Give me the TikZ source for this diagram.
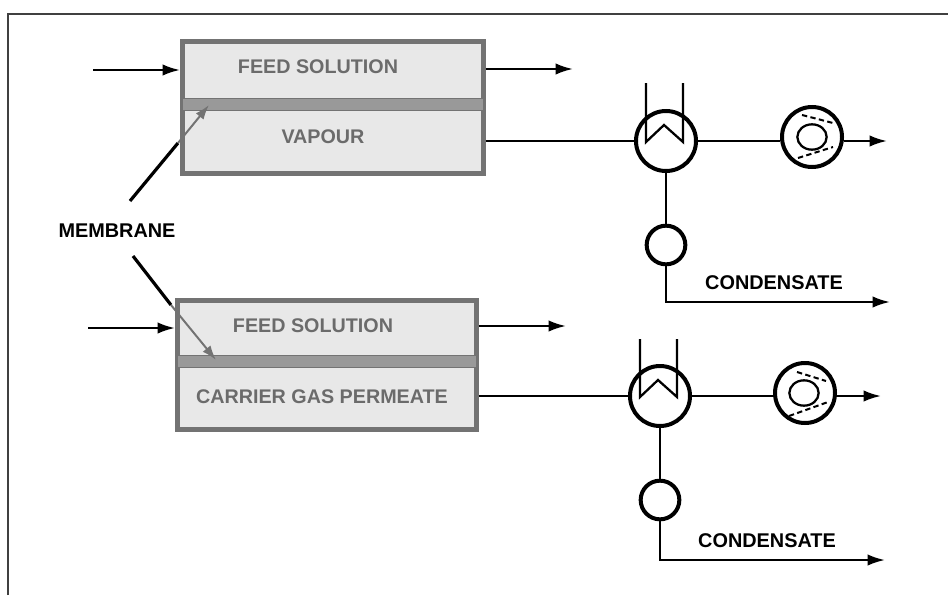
\documentclass[tikz,border=0pt]{standalone}
\usepackage{fontspec}
\setmainfont{Liberation Sans}
\usetikzlibrary{arrows.meta,shapes.geometric}
\definecolor{boxfill}{gray}{0.91}
\definecolor{boxedge}{gray}{0.45}
\definecolor{memb}{gray}{0.6}
\definecolor{boxtext}{gray}{0.42}
\tikzset{
  vessel/.style={draw=boxedge,line width=3.4pt,fill=boxfill,inner sep=0pt,anchor=north west},
  membstrip/.style={draw=boxedge,line width=0.7pt,fill=memb,inner sep=0pt},
  boxlabel/.style={text=boxtext,font=\fontsize{14.8pt}{16pt}\selectfont\bfseries,inner sep=0pt},
  blacklabel/.style={text=black,font=\fontsize{14.9pt}{16pt}\selectfont\bfseries,inner sep=0pt},
  flow/.style={line width=1.7pt,-{Latex[length=13pt,width=8.5pt]}},
  pipe/.style={line width=1.7pt},
  ring/.style={circle,draw=black,line width=3pt,fill=white,inner sep=0pt},
  leader/.style={line width=2.4pt},
  greyarrow/.style={line width=1.5pt,draw=boxedge,color=boxedge,-{Latex[length=11pt,width=7.5pt]}},
  dashrim/.style={line width=1.5pt,dash pattern=on 4pt off 2.5pt},
  thinring/.style={ellipse,draw=black,line width=1.7pt,inner sep=0pt,minimum width=22pt,minimum height=19pt}
}
\begin{document}
\begin{tikzpicture}[x=0.75pt,y=-0.75pt]
\useasboundingbox (0,0) rectangle (948,603);
\fill[white] (0,0) rectangle (948,603);
% frame
\coordinate (f1) at (8,595);
\coordinate (f2) at (8,14);
\coordinate (f3) at (948,14);
\draw[line width=0.9pt,draw=black!75] (f1) -- (f2) -- (f3);

% upper module
\node[vessel,minimum width=225.75pt,minimum height=99pt] (boxA) at (180,39) {};
\node[membstrip,minimum width=225.75pt,minimum height=9.5pt] (membA) at (332.5,104.5) {};
\node[boxlabel] (feedA) at (318,67) {FEED SOLUTION};
\node[boxlabel] (vap) at (323,137) {VAPOUR};
\coordinate (inA) at (93,70);
\coordinate (outA) at (573,69);
\draw[flow] (inA) -- (inA -| boxA.west);
\draw[flow] (outA -| boxA.east) -- (outA);

\node[ring,minimum size=45pt] (condA) at (666,141) {};
\node[ring,minimum size=45pt] (pumpA) at (812,137) {};
\node[ring,minimum size=29pt] (smallA) at (666,245) {};
\node[thinring] (coreA) at (812,137) {};
\draw[dashrim] (802,115) -- (833,123);
\draw[dashrim] (798,158) -- (833,147);
\draw[pipe] (boxA.east |- condA) -- (condA.west);
\draw[pipe] (condA.east) -- (condA.east -| pumpA.west);
\coordinate (endA) at (887,141);
\draw[flow] (pumpA.east |- endA) -- (endA);
\draw[pipe] (condA.south) -- (smallA.north);
\coordinate (turnA) at (666,302);
\coordinate (condEndA) at (890,302);
\draw[flow] (smallA.south) -- (turnA) -- (condEndA);
\draw[pipe] (646,83) -- (646,142) -- (664,125) -- (683,142) -- (683,83);
\node[blacklabel] (cA) at (774,283) {CONDENSATE};

% lower module
\node[vessel,minimum width=224.25pt,minimum height=96.75pt] (boxB) at (175,298) {};
\node[membstrip,minimum width=224.25pt,minimum height=9.5pt] (membB) at (326.5,361.5) {};
\node[boxlabel] (feedB) at (313,326) {FEED SOLUTION};
\node[boxlabel] (carrier) at (322,397) {CARRIER GAS PERMEATE};
\coordinate (inB) at (88,328);
\coordinate (outB) at (566,326);
\draw[flow] (inB) -- (inB -| boxB.west);
\draw[flow] (outB -| boxB.east) -- (outB);

\node[ring,minimum size=45pt] (condB) at (660,396) {};
\node[ring,minimum size=45pt] (pumpB) at (805,393) {};
\node[ring,minimum size=29pt] (smallB) at (660,500) {};
\node[thinring] (coreB) at (804,393) {};
\draw[dashrim] (797,372) -- (826,381);
\draw[dashrim] (789,416) -- (828,402);
\draw[pipe] (boxB.east |- condB) -- (condB.west);
\draw[pipe] (condB.east) -- (condB.east -| pumpB.west);
\coordinate (endB) at (881,396);
\draw[flow] (pumpB.east |- endB) -- (endB);
\draw[pipe] (condB.south) -- (smallB.north);
\coordinate (turnB) at (660,560);
\coordinate (condEndB) at (885,560);
\draw[flow] (smallB.south) -- (turnB) -- (condEndB);
\draw[pipe] (640,339) -- (640,397) -- (658,380) -- (677,397) -- (677,339);
\node[blacklabel] (cB) at (767,541) {CONDENSATE};

% membrane label and leaders
\node[blacklabel] (mem) at (117,231) {MEMBRANE};
\coordinate (a0) at (130,201);
\coordinate (a1) at (178,143);
\coordinate (a2) at (209,105);
\draw[leader] (a0) -- (a1);
\draw[greyarrow] (a1) -- (a2);
\coordinate (b0) at (133,256);
\coordinate (b1) at (171,305);
\coordinate (b2) at (216,360);
\draw[leader] (b0) -- (b1);
\draw[greyarrow] (b1) -- (b2);
\end{tikzpicture}
\end{document}
